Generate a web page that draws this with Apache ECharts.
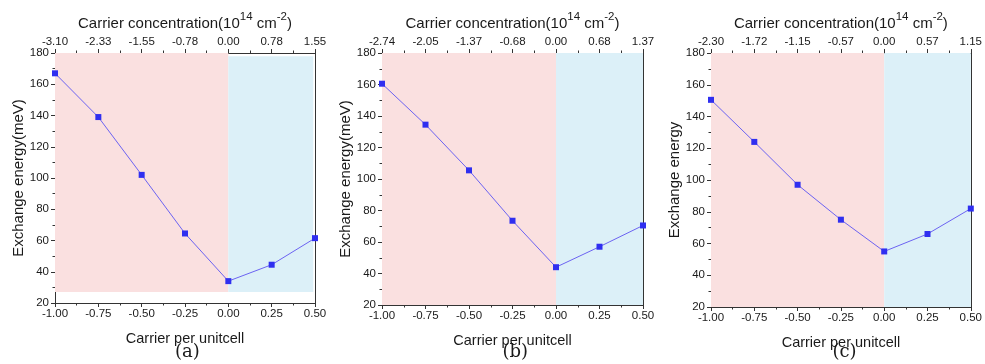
<!DOCTYPE html>
<html>
<head>
<meta charset="utf-8">
<script src="https://cdn.jsdelivr.net/npm/echarts@6/dist/echarts.min.js"></script>
<style>
  html, body { margin: 0; padding: 0; background: #fff; }
  #chart { width: 985px; height: 364px; }
</style>
</head>
<body>
<div id="chart"></div>
<script>
// carrier per unit cell (bottom axis)
const carrier = [-1.0, -0.75, -0.5, -0.25, 0.0, 0.25, 0.5];

// exchange energy
const energyCrCl3 = [167, 139, 102, 64.5, 34, 44.5, 61.5];
const energyCrBr3 = [160.5, 134.5, 105.5, 73.5, 44, 57, 70.5];
const energyCrI3 = [150.5, 124, 97, 75, 55, 66, 82];

// top axis tick labels, carrier concentration (10^14 cm^-2)
const topCrCl3 = ['-3.10', '-2.33', '-1.55', '-0.78', '0.00', '0.78', '1.55'];
const topCrBr3 = ['-2.74', '-2.05', '-1.37', '-0.68', '0.00', '0.68', '1.37'];
const topCrI3 = ['-2.30', '-1.72', '-1.15', '-0.57', '0.00', '0.57', '1.15'];

const panels = [
  {name: 'CrCl', energy: energyCrCl3, top: topCrCl3, yName: 'Exchange energy(meV)', letter: '(a)',
   grid: {left: 55, top: 53, width: 260, height: 250},
   red: [[-1, 180], [0, 27]], blue: [[0, 178], [0.49, 27]]},
  {name: 'CrBr', energy: energyCrBr3, top: topCrBr3, yName: 'Exchange energy(meV)', letter: '(b)',
   grid: {left: 382, top: 53, width: 261, height: 252},
   red: [[-1, 180], [0, 20]], blue: [[0, 180], [0.5, 20]]},
  {name: 'CrI', energy: energyCrI3, top: topCrI3, yName: 'Exchange energy', letter: '(c)',
   grid: {left: 711, top: 53, width: 263, height: 254},
   red: [[-1, 180], [0, 20]], blue: [[0, 180], [0.5, 20]]},
];

const FONT = 'Liberation Sans, Arial, sans-serif';
const AXIS_COLOR = '#333';
const TEXT_COLOR = '#1a1a1a';

const grids = [], xAxes = [], yAxes = [], series = [], graphics = [];

panels.forEach((p, i) => {
  grids.push(p.grid);
  const baseX = {
    type: 'value', gridIndex: i, min: -1, max: 0.5, interval: 0.25,
    splitLine: {show: false},
    axisLine: {show: true, onZero: false, lineStyle: {color: AXIS_COLOR}},
    axisTick: {show: true, length: 4, lineStyle: {color: AXIS_COLOR}},
    minorTick: {show: true, splitNumber: 2, length: 2.5, lineStyle: {color: AXIS_COLOR}},
    axisLabel: {fontFamily: FONT, fontSize: 11.5, color: TEXT_COLOR, margin: 5, showMinLabel: true, showMaxLabel: true},
  };
  xAxes.push(Object.assign({}, baseX, {
    position: 'bottom',
    name: 'Carrier per unitcell', nameLocation: 'middle', nameGap: 28,
    nameTextStyle: {fontFamily: FONT, fontSize: 14.5, color: TEXT_COLOR},
    axisLabel: Object.assign({}, baseX.axisLabel, {formatter: v => v.toFixed(2)}),
  }));
  xAxes.push(Object.assign({}, baseX, {
    position: 'top',
    name: '{m|Carrier concentration(10}{s|14}{m| cm}{s|-2}{m|)}',
    nameLocation: 'middle', nameGap: 19,
    nameTextStyle: {
      rich: {
        m: {fontFamily: FONT, fontSize: 15, color: TEXT_COLOR, lineHeight: 20, verticalAlign: 'bottom'},
        s: {fontFamily: FONT, fontSize: 11.5, color: TEXT_COLOR, lineHeight: 12, verticalAlign: 'top'},
      },
    },
    axisLabel: Object.assign({}, baseX.axisLabel, {
      formatter: v => p.top[Math.round((v + 1) / 0.25)] || '',
    }),
  }));
  yAxes.push({
    type: 'value', gridIndex: i, min: 20, max: 180, interval: 20, position: 'left',
    splitLine: {show: false},
    axisLine: {show: true, onZero: false, lineStyle: {color: AXIS_COLOR}},
    axisTick: {show: true, length: 4, lineStyle: {color: AXIS_COLOR}},
    minorTick: {show: true, splitNumber: 2, length: 2.5, lineStyle: {color: AXIS_COLOR}},
    axisLabel: {fontFamily: FONT, fontSize: 11.5, color: TEXT_COLOR, margin: 6, showMinLabel: true, showMaxLabel: true},
    name: p.yName, nameLocation: 'middle', nameGap: 28,
    nameTextStyle: {fontFamily: FONT, fontSize: 15, color: TEXT_COLOR},
  });
  yAxes.push({
    type: 'value', gridIndex: i, min: 20, max: 180, interval: 20, position: 'right',
    splitLine: {show: false},
    axisLine: {show: true, onZero: false, lineStyle: {color: AXIS_COLOR}},
    axisTick: {show: false}, axisLabel: {show: false},
  });
  series.push({
    type: 'line', xAxisIndex: i * 2, yAxisIndex: i * 2,
    data: carrier.map((c, k) => [c, p.energy[k]]),
    symbol: 'rect', symbolSize: 6,
    itemStyle: {color: '#2f2ff0'},
    lineStyle: {color: '#6c63f2', width: 1},
    clip: false,
    markArea: {
      silent: true,
      data: [
        [{coord: p.red[0], itemStyle: {color: '#fae0e0'}}, {coord: p.red[1]}],
        [{coord: p.blue[0], itemStyle: {color: '#dcf0f8'}}, {coord: p.blue[1]}],
      ],
    },
  });
  // material label and panel letter
  graphics.push({
    type: 'text', right: 985 - (p.grid.left + p.grid.width) + 10, top: p.grid.top + 6,
    style: {
      text: '{m|' + p.name + '}{s|3}',
      rich: {
        m: {fontFamily: FONT, fontSize: 15, fill: '#3b4a5a', lineHeight: 20, verticalAlign: 'top'},
        s: {fontFamily: FONT, fontSize: 11, fill: '#3b4a5a', lineHeight: 12, verticalAlign: 'bottom'},
      },
    },
  });
  graphics.push({
    type: 'text', left: p.grid.left + p.grid.width / 2 - 10, top: 343,
    style: {text: p.letter, font: '18px "DejaVu Serif", serif', fill: TEXT_COLOR},
  });
});

const chart = echarts.init(document.getElementById('chart'), null, {renderer: 'canvas'});
chart.setOption({
  animation: false,
  backgroundColor: '#fff',
  grid: grids,
  xAxis: xAxes,
  yAxis: yAxes,
  series: series,
  graphic: graphics,
});
</script>
</body>
</html>
